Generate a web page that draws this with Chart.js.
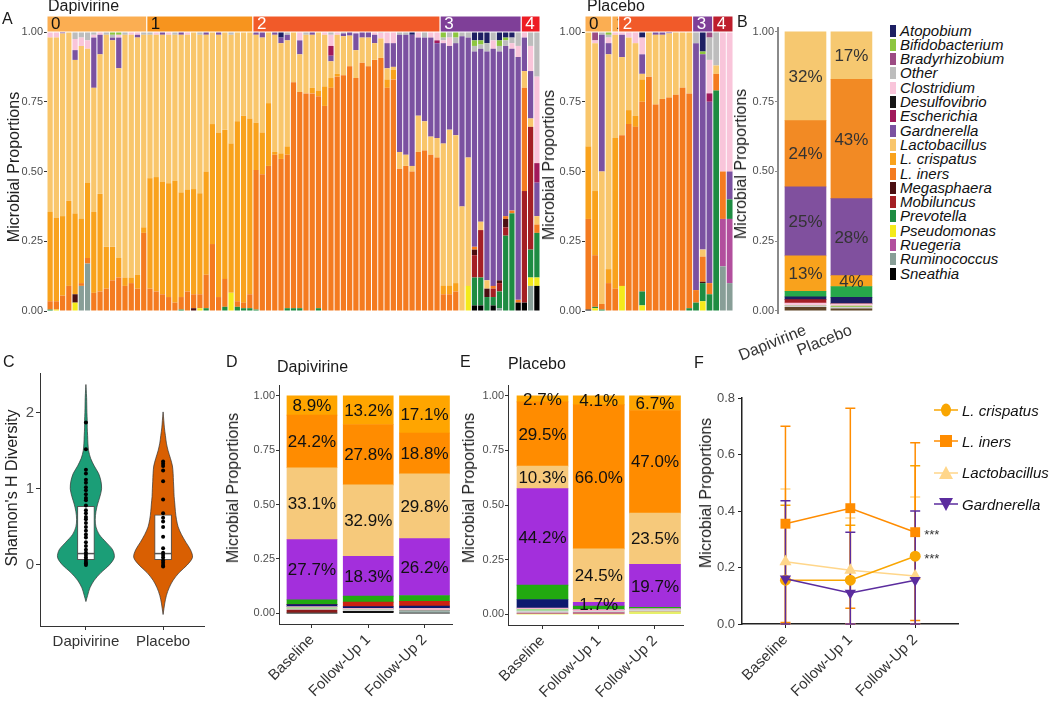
<!DOCTYPE html>
<html>
<head>
<meta charset="utf-8">
<title>Vaginal microbiota, dapivirine vs placebo</title>
<script src="https://cdn.jsdelivr.net/npm/chart.js@4.4.1/dist/chart.umd.min.js"></script>
<style>
  html, body { margin: 0; padding: 0; background: #fff; }
  #page { position: relative; width: 1050px; height: 708px; overflow: hidden;
          font-family: "Liberation Sans", Arial, Helvetica, sans-serif; color: #1a1a1a; }
  #page canvas { position: absolute; z-index: 1; }
  .tag, .ttl { position: absolute; z-index: 2; font-size: 16px; line-height: 1; white-space: nowrap; }
  .ytl { position: absolute; z-index: 2; font-size: 16px; line-height: 1; white-space: nowrap; color: #222;
         transform: translate(-50%, -50%) rotate(-90deg); }
  .legB { position: absolute; z-index: 2; left: 890px; height: 14px; font-size: 15px; font-style: italic;
          line-height: 14px; white-space: nowrap; color: #111; }
  .legB i { display: inline-block; width: 6px; height: 12px; margin-right: 4px; vertical-align: -1px; }
  .legF { position: absolute; z-index: 2; left: 934px; height: 16px; display: flex; align-items: center;
          font-size: 15px; font-style: italic; white-space: nowrap; color: #111; }
  .legF svg { margin-right: 4px; }
</style>
</head>
<body>
<div id="page">
  <div class="tag" style="left:2px;top:11px">A</div>
  <div class="ttl" style="left:48px;top:-2px">Dapivirine</div>
  <div class="ttl" style="left:587px;top:-2px">Placebo</div>
  <div class="tag" style="left:737px;top:14px">B</div>
  <div class="tag" style="left:3px;top:354px">C</div>
  <div class="tag" style="left:226px;top:354px">D</div>
  <div class="ttl" style="left:277px;top:359px">Dapivirine</div>
  <div class="tag" style="left:460px;top:354px">E</div>
  <div class="ttl" style="left:508px;top:356px">Placebo</div>
  <div class="tag" style="left:694px;top:355px">F</div>
  <div class="ytl" style="left:14px;top:167px">Microbial Proportions</div>
  <div class="ytl" style="left:549px;top:165px">Microbial Proportions</div>
  <div class="ytl" style="left:741px;top:164px">Microbial Proportions</div>
  <div class="ytl" style="left:12px;top:488px">Shannon's H Diversity</div>
  <div class="ytl" style="left:233px;top:488px">Microbial Proportions</div>
  <div class="ytl" style="left:469px;top:488px">Microbial Proportions</div>
  <div class="ytl" style="left:706px;top:493px">Microbial Proportions</div>
</div>
<script>
// ---- panel A: per-sample proportions (clusters 0..4) ----
const clusterNames = ['0', '1', '2', '3', '4'];
const dapClusterSizes = [16, 17, 30, 13, 3];
const plaClusterSizes = [4, 1, 11, 3, 3];

const dapSneathia = [
  0,0,0,0,0,0,0,0,0,0,0,0,0,0,0,0,
  0,0,0,0,0,0,0,0,0,0,0,0,0,0,0,0,0,
  0,0,0,0,0,0,0,0,0,0, 0,0,0,0,0,0,0,0,0,0, 0,0,0,0,0,0,0,0,0,0,
  0,0,0,0,0,.02,.02,0,.02,0,0,0,.03,
  .03,0,.09];
const dapRumino = [
  0,0,0,0,0,.09,.17,0,0,0,0,0,0,0,0,0,
  0,0,0,0,0,0,0,0,0,0,0,0,0,0,0,0,0,
  0,0,0,0,0,0,0,0,0,0, 0,0,0,0,0,0,0,0,0,0, 0,0,0,0,0,0,0,0,0,0,
  0,0,0,0,0,0,0,0,0,.01,0,0,0,
  0,.09,0];
const dapPseudo = [
  0,.005,0,0,.03,0,0,0,0,0,0,0,0,0,0,0,
  0,0,0,0,0,0,0,0,.01,0,0,0,0,.065,0,0,0,
  0,0,0,0,0,0,0,0,0,0, 0,0,0,0,0,0,0,0,0,0, 0,0,0,0,0,0,0,0,0,0,
  0,0,0,0,.09,0,0,0,0,0,0,0,0,
  0,.03,.03];
const dapPrev = [
  .005,0,0,0,0,0,0,0,0,0,0,0,0,0,0,0,
  0,0,0,0,0,.005,0,0,0,.01,0,0,.015,0,.015,.01,.01,
  .005,0,0,0,0,.01,.01,.01,0,0, .01,0,0,0,0,0,0,0,0,0, 0,0,0,0,0,0,0,0,0,0,
  0,0,0,0,0,.10,.10,.05,.03,.06,.27,.35,0,
  0,.10,.16];
const dapMobil = [
  0,0,0,0,0,0,0,0,0,0,0,0,0,0,0,0,
  0,0,0,0,0,0,0,0,0,0,0,0,0,0,0,0,0,
  0,0,0,0,0,0,0,0,0,0, 0,0,0,0,0,0,0,0,0,0, 0,0,0,0,0,0,0,0,0,0,
  0,0,0,0,0,.08,.17,0,.03,.03,.03,0,0,
  .40,.44,0];
const dapMegas = [
  0,0,0,0,.03,0,0,0,0,0,0,0,0,0,0,0,
  0,0,0,0,0,0,0,.01,0,0,0,0,0,0,0,0,0,
  0,0,0,0,0,0,0,0,0,0, 0,0,0,0,0,0,0,0,0,0, 0,0,0,0,0,0,0,0,0,0,
  0,0,0,0,0,.02,0,.03,0,.01,.03,0,0,
  0,0,0];
const dapIners = [
  .03,.03,.055,.09,0,.01,.02,.065,.07,.08,.11,.12,.09,.10,.08,.28,
  .08,.07,.06,.05,.03,.045,.07,.05,.05,.12,.24,.05,.10,0,.02,.02,.05,
  .50,.49,.52,.56,.545,.55,.81,.775,.78,.78, .76,.735,.80,.84,.845,.877,.835,.89,.877,.90,
  .907,.80,.83,.51,.52,.50,.57,.575,.56,.55,
  .06,.06,.07,0,0,.01,0,0,.01,0,.01,.01,.01,
  .37,0,.03];
const dapCrisp = [
  .32,.30,.285,.305,.29,.23,.27,.29,.35,.15,.12,.07,.03,.02,.05,.02,
  .396,.41,.404,.408,.437,.375,.364,.377,.362,.37,.43,.59,.535,.535,.645,.67,.63,
  .17,.15,.225,.01,.02,.03,0,0,0,.02, .02,.07,.035,.01,0,0,0,0,0,0, 0,.03,.035,0,0,0,0,0,0,0,
  .03,.03,.03,0,0,0,0,0,0,0,0,0,0,
  0,0,0];
const dapLacto = [
  .625,.645,.655,.605,.55,.62,.48,.445,.50,.76,.74,.68,.87,.87,.85,.69,
  .514,.51,.526,.532,.523,.565,.556,.563,.568,.49,.33,.35,.35,.39,.32,.30,.31,
  .315,.34,.255,.42,.395,.38,.18,.135,.21,.19, .21,.185,.06,.14,.14,.11,.10,.09,.103,.06,
  .07,.04,.01,.06,.04,.02,.13,.105,.065,.07,
  .51,.56,.53,.375,.46,0,.03,.03,0,0,0,0,0,
  .06,.03,.03];
const dapGard = [
  0,0,.005,0,.035,0,0,.18,.07,0,.01,.11,0,0,.01,0,
  0,0,.01,0,0,.01,0,0,0,.01,0,.01,0,0,0,0,0,
  .01,.02,0,.01,.02,.02,0,.05,0,.01, 0,0,.02,0,.01,.013,.06,.02,.02,.03,
  0,.09,.085,.42,.43,.47,.28,.30,.355,.34,
  .36,.30,.33,.61,.43,.70,.62,.82,.85,.82,.61,.58,.87,
  .12,.17,.12];
const dapEsch = [
  0,0,0,0,0,0,0,0,0,0,0,0,0,0,0,0,
  0,0,0,0,0,0,0,0,0,0,0,0,0,0,0,0,0,
  0,0,0,0,0,0,0,0,0,0, 0,0,.035,0,0,0,0,0,0,0, 0,0,0,0,0,0,0,0,0,.01,
  0,0,0,0,0,0,0,0,0,0,0,0,0,
  0,0,.07];
const dapClost = [
  .02,.02,0,0,.04,.03,.03,.01,.01,0,0,.01,0,.01,.01,0,
  0,.01,0,.01,0,0,.01,0,0,0,0,0,0,0,0,0,0,
  0,0,0,0,0,0,0,.03,0,0, 0,.01,.04,.01,0,0,.005,0,0,.01, .02,.04,.04,0,0,0,.02,0,.02,.03,
  .01,.03,0,0,0,0,0,0,.03,0,0,.02,.04,
  .02,.09,.31];
const dapOther = [
  0,0,0,0,.025,.02,.03,.01,0,.01,.01,0,.01,0,0,.01,
  .01,0,0,0,.01,0,0,0,.01,0,0,0,0,.01,0,0,0,
  0,0,0,0,0,.01,0,0,.01,0, 0,0,.01,0,.005,0,0,0,0,0, .003,0,0,.01,.01,0,0,.02,0,0,
  .01,.02,.02,.015,.02,.02,.015,.03,.03,.02,.02,.02,.05,
  0,.05,.16];
const dapAtopo = [
  0,0,0,0,0,0,0,0,0,0,0,0,0,0,0,0,
  0,0,0,0,0,0,0,0,0,0,0,0,0,0,0,0,0,
  0,0,0,0,.02,0,0,0,0,0, 0,0,0,0,0,0,0,0,0,0, 0,0,0,0,0,.01,0,0,0,0,
  0,0,0,0,0,.03,.03,.04,0,.03,.02,.02,0,
  0,0,0];
const dapBifido = [
  0,0,0,0,0,0,0,0,0,0,.01,.01,0,0,0,0,
  0,0,0,0,0,0,0,0,0,0,0,0,0,0,0,0,0,
  0,0,0,0,0,0,0,0,0,0, 0,0,0,0,0,0,0,0,0,0, 0,0,0,0,0,0,0,0,0,0,
  .02,0,.02,0,0,.02,.015,0,0,.02,.01,0,0,
  0,0,0];

const plaSneathia = [.005,0,0,0, 0, 0,0,0,0,0,0,0,0,0,0,0, 0,0,0, 0,0,0];
const plaRumino   = [0,0,0,0, 0, 0,0,0,0,0,0,0,0,0,0,0, 0,0,0, 0,.16,.10];
const plaRuegeria = [0,0,0,0, 0, 0,0,0,0,0,0,0,0,0,0,0, 0,0,0, 0,.17,.23];
const plaPseudo   = [0,.01,0,0, 0, .09,0,0,.02,0,0,0,0,0,0,0, 0,.035,0, 0,0,0];
const plaPrev     = [0,.005,.005,0, 0, 0,0,0,.05,0,0,0,0,0,0,.01, .03,.065,.06, .79,0,.07];
const plaMegas    = [0,0,0,0, 0, 0,0,0,0,0,0,0,0,0,0,0, 0,.005,0, 0,0,0];
const plaIners    = [.325,.185,.02,.10, .08, .54,.67,.66,.68,.84,.74,.76,.765,.775,.80,.77, .045,.09,.04, .06,.17,0];
const plaCrisp    = [.26,.23,0,.05, .54, 0,.05,.04,.08,0,0,0,0,0,0,0, 0,0,0, 0,0,0];
const plaLacto    = [.41,.53,.475,.77, .37, .28,.26,.26,.02,.16,.25,.23,.23,.225,.20,.22, 0,.025,0, .03,0,0];
const plaGard     = [0,0,.49,.04, 0, .08,0,0,.07,0,.01,.01,.005,0,0,0, .885,.70,.65, 0,0,.10];
const plaEsch     = [0,0,0,0, 0, 0,0,0,0,0,0,0,0,0,0,0, 0,0,.03, 0,0,0];
const plaClost    = [0,.01,0,.02, .01, .01,.02,.04,.06,0,0,0,0,0,0,0, 0,0,.12, 0,.50,.50];
const plaOther    = [0,0,.01,.01, 0, 0,0,0,0,0,0,0,0,0,0,0, .04,0,.08, .12,0,0];
const plaBrady    = [0,.03,0,0, 0, 0,0,0,0,0,0,0,0,0,0,0, 0,0,.02, 0,0,0];
const plaBifido   = [0,0,0,.01, 0, 0,0,0,0,0,0,0,0,0,0,0, 0,.01,0, 0,0,0];
const plaAtopo    = [0,0,0,0, 0, 0,0,0,.02,0,0,0,0,0,0,0, 0,.07,0, 0,0,0];

// ---- panel B: pooled proportions by arm ----
const bGroups = ['Dapivirine', 'Placebo'];
const bMegas = [.012, .007];
const bOther = [.006, .006];
const bBifido = [0, .004];
const bClost = [.01, .008];
const bMobil = [.012, 0];
const bAtopo = [.01, .023];
const bPrev = [.02, .039];
const bCrisp = [.127, .039];
const bGard = [.247, .276];
const bIners = [.238, .428];
const bLacto = [.318, .17];

// ---- panel C: Shannon diversity ----
const cGroups = ['Dapivirine', 'Placebo'];
const dapViolinY = [-0.48,-0.4,-0.3,-0.2,-0.1,0,0.1,0.2,0.3,0.4,0.5,0.6,0.7,0.8,0.9,1.0,1.1,1.2,1.3,1.4,1.5,1.6,1.7,1.8,1.9,2.0,2.1,2.2,2.3,2.37];
const dapViolinW = [0,.022,.052,.108,.195,.303,.368,.346,.26,.173,.13,.121,.13,.152,.182,.203,.195,.165,.108,.061,.035,.026,.022,.017,.017,.013,.011,.009,.004,0];
const plaViolinY = [-0.65,-0.5,-0.4,-0.3,-0.2,-0.1,0,0.1,0.2,0.3,0.4,0.5,0.6,0.7,0.8,0.9,1.0,1.1,1.2,1.3,1.4,1.5,1.6,1.7,1.8,1.9,2.01];
const plaViolinW = [0,.022,.043,.078,.13,.208,.312,.381,.355,.294,.238,.195,.173,.16,.152,.143,.139,.134,.13,.121,.095,.065,.043,.03,.017,.009,0];
const dapBox = [0.07, 0.15, 0.77];
const plaBox = [0.07, 0.15, 0.66];
const dapShannon = [1.87,1.52,1.25,1.2,1.12,1.08,1.02,0.98,0.93,0.88,0.85,0.78,0.72,0.68,0.63,0.6,0.55,0.5,0.45,0.4,0.36,0.3,0.25,0.2,0.16,0.13,0.1,0.07,0.04,0.02,0.0];
const plaShannon = [1.36,1.33,1.3,1.24,1.1,0.86,0.68,0.62,0.57,0.5,0.37,0.22,0.16,0.13,0.1,0.06,0.03,0.0,-0.02];

// ---- panels D/E: mean proportions per visit ----
const visits = ['Baseline', 'Follow-Up 1', 'Follow-Up 2'];
const dSneathia = [0, .008, 0];
const dRumino = [0, 0, .012];
const dMegas = [.014, 0, 0];
const dOther = [.006, .008, 0];
const dBifido = [.004, 0, 0];
const dClost = [.006, .006, .01];
const dAtopo = [.009, .008, .01];
const dMobil = [0, .021, .022];
const dPrev = [.022, .027, .027];
const dGard = [.277, .183, .262];
const dLacto = [.331, .329, .298];
const dIners = [.242, .278, .188];
const dCrisp = [.089, .132, .171];

const eBrady = [.005, .007, 0];
const ePseudo = [0, 0, .01];
const eBifido = [.006, 0, 0];
const eClost = [.006, .008, .007];
const eOther = [.01, .006, .008];
const eAtopo = [.04, 0, 0];
const ePrev = [.066, .016, .006];
const eGard = [.442, .017, .197];
const eLacto = [.103, .245, .235];
const eIners = [.295, .66, .47];
const eCrisp = [.027, .041, .067];

// ---- panel F: mean with error bars ----
const crispMean = [.155, .155, .24], crispHi = [.42, .35, .56], crispLo = [0, 0, 0];
const inersMean = [.355, .41, .325], inersHi = [.70, .764, .642], inersLo = [.005, .056, .012];
const lactoMean = [.22, .19, .17], lactoHi = [.478, .375, .45], lactoLo = [0, 0, 0];
const gardMean = [.16, .11, .155], gardHi = [.436, .325, .40], gardLo = [0, 0, 0];
const starMarks = ['L. iners', 'L. crispatus'];

// ---- styles ----
const taxa = ['Atopobium','Bifidobacterium','Bradyrhizobium','Other','Clostridium','Desulfovibrio','Escherichia',
  'Gardnerella','Lactobacillus','L. crispatus','L. iners','Megasphaera','Mobiluncus','Prevotella','Pseudomonas',
  'Ruegeria','Ruminococcus','Sneathia'];
const colA = {
  'Atopobium': '#1d1f63', 'Bifidobacterium': '#8dc63f', 'Bradyrhizobium': '#9c4b84', 'Other': '#bdbdbd',
  'Clostridium': '#f9c5da', 'Desulfovibrio': '#161616', 'Escherichia': '#a1195b', 'Gardnerella': '#7b51a1',
  'Lactobacillus': '#f9c66b', 'L. crispatus': '#f9a21c', 'L. iners': '#f47b20', 'Megasphaera': '#4b0f12',
  'Mobiluncus': '#a41f24', 'Prevotella': '#1e8c42', 'Pseudomonas': '#f4ea1b', 'Ruegeria': '#b24f9d',
  'Ruminococcus': '#889e97', 'Sneathia': '#000000'
};
const colB = Object.assign({}, colA, { 'Lactobacillus': '#f6c870', 'L. iners': '#f28a24', 'Gardnerella': '#80509e',
  'Prevotella': '#27a84a', 'Megasphaera': '#5e4426', 'Other': '#d0d0d0' });
const colDE = { 'Sneathia': '#111111', 'Ruminococcus': '#9fb3ad', 'Megasphaera': '#8b1a1a', 'Pseudomonas': '#e6f06a',
  'Bradyrhizobium': '#b85585', 'Other': '#d4d4d4', 'Bifidobacterium': '#80e070', 'Clostridium': '#f5b5ca',
  'Atopobium': '#0c1a6e', 'Mobiluncus': '#cc2211', 'Prevotella': '#22aa10', 'Gardnerella': '#a32fdc',
  'Lactobacillus': '#f6c97b', 'L. iners': '#ff8c00', 'L. crispatus': '#ffa500' };
const dapStripColors = ['#fbae52', '#f7941e', '#f15a29', '#7f3f98', '#ed1c24'];
const plaStripColors = ['#fbae52', '#fbae52', '#f15a29', '#7f3f98', '#be1e2d'];
const stripText = ['#111', '#111', '#fff', '#fff', '#fff'];

const stackOrderA = taxa.slice().reverse();
const stackOrderB = ['Megasphaera','Other','Bifidobacterium','Clostridium','Mobiluncus','Atopobium','Prevotella',
  'L. crispatus','Gardnerella','L. iners','Lactobacillus'];
const stackOrderDE = ['Sneathia','Ruminococcus','Megasphaera','Pseudomonas','Bradyrhizobium','Other','Bifidobacterium',
  'Clostridium','Atopobium','Mobiluncus','Prevotella','Gardnerella','Lactobacillus','L. iners','L. crispatus'];
const mainTaxa = ['L. crispatus', 'L. iners', 'Lactobacillus', 'Gardnerella'];

const dapSeries = { 'Sneathia': dapSneathia, 'Ruminococcus': dapRumino, 'Pseudomonas': dapPseudo, 'Prevotella': dapPrev,
  'Mobiluncus': dapMobil, 'Megasphaera': dapMegas, 'L. iners': dapIners, 'L. crispatus': dapCrisp,
  'Lactobacillus': dapLacto, 'Gardnerella': dapGard, 'Escherichia': dapEsch, 'Clostridium': dapClost,
  'Other': dapOther, 'Bifidobacterium': dapBifido, 'Atopobium': dapAtopo };
const plaSeries = { 'Sneathia': plaSneathia, 'Ruminococcus': plaRumino, 'Ruegeria': plaRuegeria, 'Pseudomonas': plaPseudo,
  'Prevotella': plaPrev, 'Mobiluncus': null, 'Megasphaera': plaMegas, 'L. iners': plaIners, 'L. crispatus': plaCrisp,
  'Lactobacillus': plaLacto, 'Gardnerella': plaGard, 'Escherichia': plaEsch, 'Clostridium': plaClost,
  'Other': plaOther, 'Bradyrhizobium': plaBrady, 'Bifidobacterium': plaBifido, 'Atopobium': plaAtopo };
const bSeries = { 'Megasphaera': bMegas, 'Other': bOther, 'Bifidobacterium': bBifido, 'Clostridium': bClost,
  'Mobiluncus': bMobil, 'Atopobium': bAtopo, 'Prevotella': bPrev, 'L. crispatus': bCrisp, 'Gardnerella': bGard,
  'L. iners': bIners, 'Lactobacillus': bLacto };
const dSeries = { 'Sneathia': dSneathia, 'Ruminococcus': dRumino, 'Megasphaera': dMegas, 'Other': dOther,
  'Bifidobacterium': dBifido, 'Clostridium': dClost, 'Atopobium': dAtopo, 'Mobiluncus': dMobil, 'Prevotella': dPrev,
  'Gardnerella': dGard, 'Lactobacillus': dLacto, 'L. iners': dIners, 'L. crispatus': dCrisp };
const eSeries = { 'Bradyrhizobium': eBrady, 'Pseudomonas': ePseudo, 'Bifidobacterium': eBifido, 'Clostridium': eClost,
  'Other': eOther, 'Atopobium': eAtopo, 'Prevotella': ePrev, 'Gardnerella': eGard, 'Lactobacillus': eLacto,
  'L. iners': eIners, 'L. crispatus': eCrisp };

// ---- chart setup ----
const FONT = "'Liberation Sans', Arial, Helvetica, sans-serif";
Chart.defaults.font.family = FONT;
Chart.defaults.color = '#4d4d4d';
Chart.defaults.animation = false;
Chart.defaults.responsive = false;
Chart.defaults.plugins.legend.display = false;
Chart.defaults.plugins.tooltip.enabled = false;

const page = document.getElementById('page');
function makeCanvas(left, top, w, h) {
  const c = document.createElement('canvas');
  c.width = w; c.height = h;
  c.style.cssText = 'left:' + left + 'px;top:' + top + 'px;width:' + w + 'px;height:' + h + 'px';
  page.appendChild(c);
  return c;
}

function stackSets(order, series, colors, extra) {
  return order.filter(n => series[n]).map(n => Object.assign({
    label: n, data: series[n], backgroundColor: colors[n], borderWidth: 0
  }, extra));
}

function propAxis(width, more) {
  return Object.assign({
    stacked: true, min: 0, max: 1,
    afterFit: s => { s.width = width; },
    border: { display: false },
    grid: { drawOnChartArea: false, tickLength: 3, color: '#333' },
    ticks: { stepSize: 0.25, includeBounds: false, padding: 1, font: { size: 11 }, color: '#4d4d4d',
             callback: v => v.toFixed(2) }
  }, more);
}

function visitAxis(height, min, max) {
  return {
    type: 'linear', min: min, max: max, stacked: true, offset: false,
    afterFit: s => { s.height = height; },
    border: { color: '#333' },
    grid: { drawOnChartArea: false, offset: false, tickLength: 4, color: '#333' },
    ticks: { stepSize: 1, includeBounds: false, autoSkip: false, minRotation: 45, maxRotation: 45,
             font: { size: 15 }, color: '#333', callback: v => visits[v] }
  };
}

// cluster strip above the sample bars
const stripPlugin = {
  id: 'strip',
  afterDraw(chart, args, opts) {
    const { ctx, chartArea, scales: { x } } = chart;
    const half = (x.getPixelForValue(1) - x.getPixelForValue(0)) / 2;
    let start = 0;
    ctx.save();
    opts.sizes.forEach((n, k) => {
      const left = x.getPixelForValue(start) - half;
      const right = x.getPixelForValue(start + n - 1) + half;
      ctx.fillStyle = opts.colors[k];
      ctx.fillRect(left, chartArea.top - 16, right - left, 16);
      ctx.strokeStyle = '#fff';
      ctx.lineWidth = 1;
      ctx.strokeRect(left, chartArea.top - 16, right - left, 16);
      ctx.fillStyle = stripText[k];
      ctx.font = '17px ' + FONT;
      ctx.textBaseline = 'middle';
      ctx.fillText(clusterNames[k], left + 4, chartArea.top - 7.5);
      start += n;
    });
    ctx.restore();
  }
};

// percentage labels inside stacked segments
const segLabels = {
  id: 'segLabels',
  afterDatasetsDraw(chart, args, opts) {
    const ctx = chart.ctx;
    ctx.save();
    ctx.font = opts.size + 'px ' + FONT;
    ctx.fillStyle = opts.color;
    ctx.textAlign = 'center';
    ctx.textBaseline = 'middle';
    chart.data.datasets.forEach((ds, di) => {
      if (!mainTaxa.includes(ds.label)) return;
      chart.getDatasetMeta(di).data.forEach((bar, i) => {
        const v = ds.data[i];
        if (v < opts.min) return;
        const txt = opts.digits ? (v * 100).toFixed(opts.digits) + '%' : Math.round(v * 100) + '%';
        ctx.fillText(txt, bar.x, (bar.y + bar.base) / 2 + 1);
      });
    });
    ctx.restore();
  }
};

// error bars and significance marks for panel F
const errBars = {
  id: 'errBars',
  beforeDatasetsDraw(chart) {
    const { ctx, scales: { x, y } } = chart;
    chart.data.datasets.slice().reverse().forEach(ds => {
      ctx.save();
      ctx.strokeStyle = ds.borderColor;
      ctx.lineWidth = 1.5;
      ds.data.forEach((p, i) => {
        const px = x.getPixelForValue(p.x);
        const top = y.getPixelForValue(ds.hi[i]);
        const bot = y.getPixelForValue(ds.lo[i]);
        ctx.beginPath();
        ctx.moveTo(px, top); ctx.lineTo(px, bot);
        ctx.moveTo(px - 5, top); ctx.lineTo(px + 5, top);
        ctx.moveTo(px - 5, bot); ctx.lineTo(px + 5, bot);
        ctx.stroke();
      });
      ctx.restore();
    });
  },
  afterDatasetsDraw(chart) {
    const { ctx, scales: { x, y } } = chart;
    ctx.save();
    ctx.font = '13px ' + FONT;
    ctx.fillStyle = '#333';
    ctx.textBaseline = 'middle';
    chart.data.datasets.forEach(ds => {
      if (!starMarks.includes(ds.label)) return;
      const p = ds.data[ds.data.length - 1];
      ctx.fillText('***', x.getPixelForValue(p.x) + 9, y.getPixelForValue(p.y) + 3);
    });
    ctx.restore();
  }
};

// A: Dapivirine samples
new Chart(makeCanvas(0, 0, 545, 320), {
  type: 'bar',
  data: { labels: dapIners.map((_, i) => 'D' + (i + 1)),
          datasets: stackSets(stackOrderA, dapSeries, colA, { barPercentage: 0.84, categoryPercentage: 1 }) },
  options: {
    layout: { padding: { top: 32, bottom: 9, right: 5 } },
    scales: { x: { stacked: true, display: false }, y: propAxis(47) },
    plugins: { strip: { sizes: dapClusterSizes, colors: dapStripColors } }
  },
  plugins: [stripPlugin]
});

// A: Placebo samples
new Chart(makeCanvas(545, 0, 195, 320), {
  type: 'bar',
  data: { labels: plaIners.map((_, i) => 'P' + (i + 1)),
          datasets: stackSets(stackOrderA, plaSeries, colA, { barPercentage: 0.86, categoryPercentage: 1 }) },
  options: {
    layout: { padding: { top: 32, bottom: 9, right: 7 } },
    scales: { x: { stacked: true, display: false }, y: propAxis(40) },
    plugins: { strip: { sizes: plaClusterSizes, colors: plaStripColors } }
  },
  plugins: [stripPlugin]
});

// B: pooled by arm
new Chart(makeCanvas(700, 0, 185, 362), {
  type: 'bar',
  data: { labels: [0, 1], datasets: stackSets(stackOrderB, bSeries, colB, { barThickness: 41 }) },
  options: {
    layout: { padding: { top: 28, right: 6, left: 35 } },
    scales: {
      x: { type: 'linear', min: -0.598, max: 1.6, stacked: true, offset: false, afterFit: s => { s.height = 49; },
           border: { display: false }, grid: { display: false, offset: false },
           ticks: { stepSize: 1, includeBounds: false, autoSkip: false, minRotation: 22, maxRotation: 22,
                    padding: 0, font: { size: 16 }, color: '#333', callback: v => bGroups[v] } },
      y: propAxis(43, { min: -0.008, max: 1.014, border: { display: true, color: '#8a8a8a', width: 2 },
                        grid: { drawOnChartArea: false, tickLength: 3, color: '#8a8a8a' } })
    },
    plugins: { segLabels: { size: 17, color: '#333', min: 0.035, digits: 0 } }
  },
  plugins: [segLabels]
});

// B legend
taxa.forEach((name, i) => {
  const row = document.createElement('div');
  row.className = 'legB';
  row.style.top = (23.5 + i * 14.3) + 'px';
  row.innerHTML = '<i style="background:' + colA[name] + '"></i>' + name;
  page.appendChild(row);
});

// C: Shannon diversity violins
function violin(ys, ws, centre) {
  const left = ys.map((y, i) => ({ x: centre - ws[i], y: y }));
  const right = ys.map((y, i) => ({ x: centre + ws[i], y: y })).reverse();
  return left.concat(right);
}
const BOX_HALF = 0.11;
new Chart(makeCanvas(0, 345, 210, 330), {
  type: 'scatter',
  data: { datasets: [
    { data: violin(dapViolinY, dapViolinW, 1), showLine: true, fill: 'shape', tension: 0.3, pointRadius: 0,
      backgroundColor: '#1b9e77', borderColor: '#333', borderWidth: 0.7, order: 4 },
    { data: violin(plaViolinY, plaViolinW, 2), showLine: true, fill: 'shape', tension: 0.3, pointRadius: 0,
      backgroundColor: '#d95f02', borderColor: '#333', borderWidth: 0.7, order: 4 },
    { type: 'bar', data: [{ x: 1, y: [dapBox[0], dapBox[2]] }], barThickness: 17, grouped: false,
      backgroundColor: '#fff', borderColor: '#555', borderWidth: 1, borderSkipped: false, order: 3 },
    { type: 'bar', data: [{ x: 2, y: [plaBox[0], plaBox[2]] }], barThickness: 17, grouped: false,
      backgroundColor: '#fff', borderColor: '#555', borderWidth: 1, borderSkipped: false, order: 3 },
    { data: [{ x: 1 - BOX_HALF, y: dapBox[1] }, { x: 1 + BOX_HALF, y: dapBox[1] }], showLine: true,
      pointRadius: 0, borderColor: '#555', borderWidth: 1.5, order: 2 },
    { data: [{ x: 2 - BOX_HALF, y: plaBox[1] }, { x: 2 + BOX_HALF, y: plaBox[1] }], showLine: true,
      pointRadius: 0, borderColor: '#555', borderWidth: 1.5, order: 2 },
    { data: dapShannon.map(v => ({ x: 1, y: v })), pointRadius: 2, backgroundColor: '#000', borderWidth: 0, order: 1 },
    { data: plaShannon.map(v => ({ x: 2, y: v })), pointRadius: 2, backgroundColor: '#000', borderWidth: 0, order: 1 }
  ] },
  options: {
    layout: { padding: { top: 28, right: 6 } },
    scales: {
      x: { type: 'linear', min: 0.405, max: 2.53, offset: false, afterFit: s => { s.height = 49; },
           border: { color: '#333' }, grid: { drawOnChartArea: false, offset: false, tickLength: 4, color: '#333' },
           ticks: { stepSize: 1, includeBounds: false, maxRotation: 0, font: { size: 15 }, color: '#333',
                    callback: v => cGroups[v - 1] } },
      y: { min: -0.801, max: 2.521, afterFit: s => { s.width = 40; },
           border: { color: '#333' }, grid: { drawOnChartArea: false, tickLength: 4, color: '#333' },
           ticks: { stepSize: 1, includeBounds: false, padding: 2, font: { size: 15 }, color: '#4d4d4d' } }
    }
  }
});

// D: Dapivirine by visit
new Chart(makeCanvas(225, 345, 235, 363), {
  type: 'bar',
  data: { labels: [0, 1, 2], datasets: stackSets(stackOrderDE, dSeries, colDE, { barThickness: 50 }) },
  options: {
    layout: { padding: { top: 40, right: 8 } },
    scales: {
      x: visitAxis(84, -0.586, 2.489),
      y: propAxis(54, { min: -0.05, max: 1.05, border: { display: true, color: '#333' } })
    },
    plugins: { segLabels: { size: 17, color: '#111', min: 0, digits: 1 } }
  },
  plugins: [segLabels]
});

// E: Placebo by visit
new Chart(makeCanvas(462, 345, 229, 363), {
  type: 'bar',
  data: { labels: [0, 1, 2], datasets: stackSets(stackOrderDE, eSeries, colDE, { barThickness: 51 }) },
  options: {
    layout: { padding: { top: 40, right: 8 } },
    scales: {
      x: visitAxis(83, -0.613, 2.498),
      y: propAxis(46, { min: -0.05, max: 1.05, border: { display: true, color: '#333' } })
    },
    plugins: { segLabels: { size: 17, color: '#111', min: 0, digits: 1 } }
  },
  plugins: [segLabels]
});

// F: key taxa over visits
const fSeries = [
  { name: 'Gardnerella', mean: gardMean, hi: gardHi, lo: gardLo, color: '#5b2c9e', style: 'triangle', radius: 6.5, rot: 180 },
  { name: 'L. iners', mean: inersMean, hi: inersHi, lo: inersLo, color: '#ff8c00', style: 'rect', radius: 7, rot: 0 },
  { name: 'L. crispatus', mean: crispMean, hi: crispHi, lo: crispLo, color: '#f9a602', style: 'circle', radius: 5.5, rot: 0 },
  { name: 'Lactobacillus', mean: lactoMean, hi: lactoHi, lo: lactoLo, color: '#ffd68a', style: 'triangle', radius: 7, rot: 0 }
];
new Chart(makeCanvas(700, 345, 265, 363), {
  type: 'scatter',
  data: { datasets: fSeries.map(s => ({
    label: s.name, data: s.mean.map((v, i) => ({ x: i, y: v })), hi: s.hi, lo: s.lo,
    showLine: true, borderColor: s.color, backgroundColor: s.color, borderWidth: 1.5,
    pointStyle: s.style, pointRadius: s.radius, pointRotation: s.rot, pointBorderWidth: 0
  })) },
  options: {
    layout: { padding: { top: 53, right: 5 } },
    scales: {
      x: { type: 'linear', min: -0.67, max: 2.66, afterFit: s => { s.height = 84; },
           border: { color: '#222', width: 1.5 }, grid: { drawOnChartArea: false, tickLength: 4, color: '#222' },
           ticks: { stepSize: 1, includeBounds: false, autoSkip: false, minRotation: 45, maxRotation: 45,
                    font: { size: 15 }, color: '#333', callback: v => visits[v] } },
      y: { min: 0, max: 0.8, afterFit: s => { s.width = 42; },
           border: { color: '#222', width: 1.5 }, grid: { drawOnChartArea: false, tickLength: 4, color: '#222' },
           ticks: { stepSize: 0.2, font: { size: 13 }, color: '#4d4d4d', callback: v => v.toFixed(1) } }
    }
  },
  plugins: [errBars]
});

// F legend
const legendOrder = ['L. crispatus', 'L. iners', 'Lactobacillus', 'Gardnerella'];
const markerSvg = {
  circle: c => '<ellipse cx="12" cy="8" rx="5" ry="6.5" fill="' + c + '"/>',
  rect: c => '<rect x="6" y="2" width="12" height="12" fill="' + c + '"/>',
  triangle: c => '<polygon points="12,1 19,14 5,14" fill="' + c + '"/>',
  down: c => '<polygon points="5,2 19,2 12,15" fill="' + c + '"/>'
};
legendOrder.forEach((name, i) => {
  const s = fSeries.find(f => f.name === name);
  const shape = s.rot ? markerSvg.down(s.color) : markerSvg[s.style](s.color);
  const row = document.createElement('div');
  row.className = 'legF';
  row.style.top = (402 + i * 31.4) + 'px';
  row.innerHTML = '<svg width="24" height="16" viewBox="0 0 24 16"><line x1="0" y1="8" x2="24" y2="8" stroke="' +
    s.color + '" stroke-width="1.5"/>' + shape + '</svg><span>' + name + '</span>';
  page.appendChild(row);
});
</script>
</body>
</html>
